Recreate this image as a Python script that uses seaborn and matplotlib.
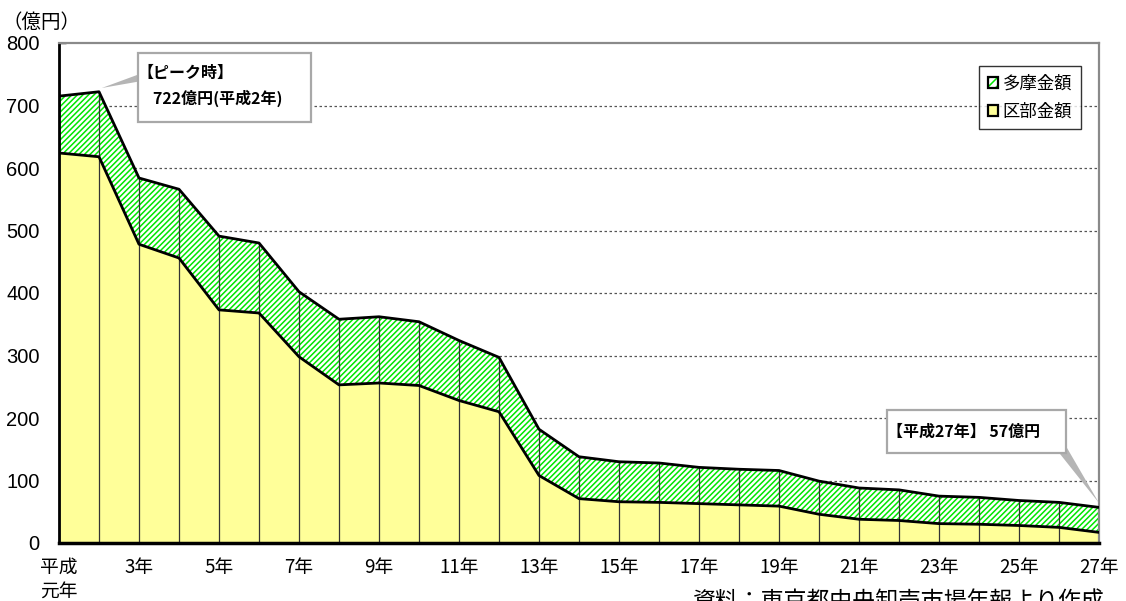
import numpy as np
import pandas as pd
import matplotlib
matplotlib.use("Agg")
import matplotlib.pyplot as plt
import seaborn as sns
from matplotlib.patches import Patch, Rectangle
from matplotlib.legend_handler import HandlerTuple

# ---- data (億円) ----
years = list(range(1, 28))
ku_values = [624, 618, 478, 456, 373, 368, 298, 253, 256, 252, 228, 210, 108,
             71, 66, 65, 63, 61, 59, 46, 38, 36, 31, 30, 28, 25, 17]
tama_values = [91, 104, 106, 110, 118, 112, 104, 105, 106, 102, 96, 87, 74,
               67, 64, 63, 58, 57, 57, 53, 50, 49, 44, 43, 40, 40, 40]
tick_years = list(range(1, 28, 2))
tick_labels = ["平成\n元年"] + [f"{y}年" for y in range(3, 28, 2)]
y_ticks = list(range(0, 801, 100))
series_names = ["多摩金額", "区部金額"]
peak_text = "【ピーク時】\n\u3000722億円(平成2年)"
last_text = "【平成27年】 57億円"
unit_text = "（億円）"
source_text = "資料：東京都中央卸売市場年報より作成"

df = pd.DataFrame({"year": years, "ku": ku_values, "tama": tama_values})
df["total"] = df["ku"] + df["tama"]

sns.set_theme(style="white")
plt.rcParams["font.family"] = ["Noto Sans CJK JP", "DejaVu Sans"]
plt.rcParams["hatch.linewidth"] = 1.1

W, H = 1126, 601
fig = plt.figure(figsize=(W / 100, H / 100), dpi=100)
ax = fig.add_axes([59 / W, 1 - 543 / H, (1099 - 59) / W, (543 - 43) / H])

def fp(x, y):
    return (x / W, 1 - y / H)

# grid
for v in y_ticks[1:-1]:
    ax.axhline(v, color="#555555", lw=0.9, ls=(0, (2, 2)), zorder=0)

# areas
ax.fill_between(df["year"], 0, df["ku"], facecolor="#ffff99", edgecolor="none", zorder=1)
ax.fill_between(df["year"], df["ku"], df["total"], facecolor="white",
                edgecolor="#00e600", hatch="//////", linewidth=0, zorder=1)

# vertical separators
ax.vlines(df["year"], 0, df["total"], color="#333333", lw=0.9, zorder=2)

# boundary lines
sns.lineplot(data=df, x="year", y="ku", ax=ax, color="black", lw=2.0, zorder=3)
sns.lineplot(data=df, x="year", y="total", ax=ax, color="black", lw=2.0, zorder=3)

ax.set_xlim(1, 27)
ax.set_ylim(0, 800)
ax.set_xlabel("")
ax.set_ylabel("")
ax.set_yticks(y_ticks)
ax.set_yticklabels([str(v) for v in y_ticks], fontsize=14.5, family=["Liberation Sans", "DejaVu Sans"])
ax.set_xticks(tick_years)
ax.set_xticklabels(tick_labels, fontsize=13.5, linespacing=1.2)
ax.tick_params(axis="y", direction="in", length=5, width=1, color="black", pad=14, left=True)
ax.tick_params(axis="x", length=0, pad=10)
for lab in ax.get_yticklabels() + ax.get_xticklabels():
    lab.set_color("black")

ax.spines["left"].set_color("black")
ax.spines["left"].set_linewidth(2)
ax.spines["bottom"].set_color("black")
ax.spines["bottom"].set_linewidth(2.5)
for s in ["top", "right"]:
    ax.spines[s].set_color("#8a8a8a")
    ax.spines[s].set_linewidth(1.6)
    ax.spines[s].set_visible(True)

# legend
h_tama = (Patch(facecolor="white", edgecolor="#00e600", hatch="////", lw=0),
          Patch(facecolor="none", edgecolor="black", lw=1.6))
h_ku = Patch(facecolor="#ffff99", edgecolor="black", lw=1.6)
leg = ax.legend([h_tama, h_ku], series_names, loc="upper right",
                bbox_to_anchor=((1081 - 59) / 1040, (543 - 66) / 500),
                fontsize=12.5, frameon=True, fancybox=False, handlelength=0.6,
                handleheight=0.6, handletextpad=0.25, labelspacing=0.55,
                borderpad=0.5, borderaxespad=0,
                handler_map={tuple: HandlerTuple(ndivide=1)})
leg.get_frame().set_edgecolor("black")
leg.get_frame().set_linewidth(1.0)
for t in leg.get_texts():
    t.set_color("black")

# callouts
gray = "#b5b5b5"
ax.annotate("", xy=(years[1] + 0.07, df["total"][1] + 6), xycoords="data",
            xytext=fp(150, 75), textcoords="figure fraction",
            arrowprops=dict(arrowstyle="wedge,tail_width=0.65,shrink_factor=0.5",
                            fc=gray, ec="none", shrinkA=0, shrinkB=0, mutation_scale=10),
            annotation_clip=False)
ax.annotate("", xy=(years[-1], df["total"].iloc[-1] + 7), xycoords="data",
            xytext=fp(1056, 440), textcoords="figure fraction",
            arrowprops=dict(arrowstyle="wedge,tail_width=0.8,shrink_factor=0.5",
                            fc=gray, ec="none", shrinkA=0, shrinkB=0, mutation_scale=10,
                            clip_on=False),
            annotation_clip=False)

for (x0, y0, x1, y1) in [(138, 53, 311, 122), (887, 410, 1066, 453)]:
    r = Rectangle(fp(x0, y1), (x1 - x0) / W, (y1 - y0) / H, transform=fig.transFigure,
                  facecolor="white", edgecolor="#a8a8a8", lw=1.6, zorder=5)
    fig.add_artist(r)

fig.text(*fp(137, 86), peak_text, fontsize=11.5, fontweight="bold", va="center",
         ha="left", linespacing=1.6, color="black", zorder=6)
fig.text(*fp(887, 432), last_text, fontsize=11.5, fontweight="bold", va="center",
         ha="left", color="black", zorder=6)

fig.text(*fp(3, 22), unit_text, fontsize=14, va="center", ha="left", color="black")
fig.text(*fp(693, 591), source_text, fontsize=16.5, va="top", ha="left", color="black")

fig.savefig("out.png", dpi=100)
